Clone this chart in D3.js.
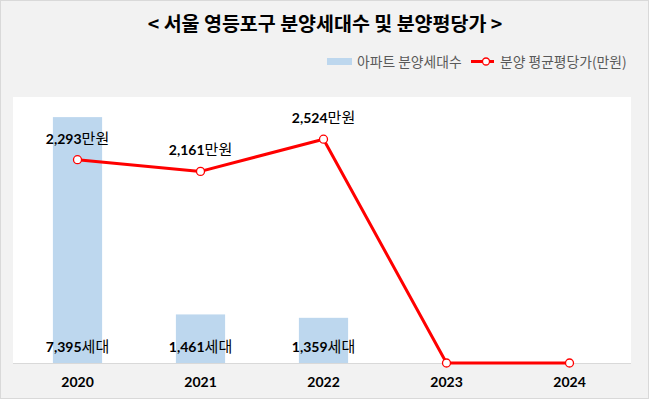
<!DOCTYPE html>
<html><head><meta charset="utf-8">
<script src="https://cdn.jsdelivr.net/npm/d3@7"></script>
<style>
html,body{margin:0;padding:0;background:#fff;}
svg{display:block;}
</style></head>
<body>
<svg id="chart" width="649" height="399"></svg>
<script>
const years = ["2020","2021","2022","2023","2024"];
const units = [7395, 1461, 1359, 0, 0];
const prices = [2293, 2161, 2524, 0, 0];
const titleText = "< 서울 영등포구 분양세대수 및 분양평당가 >";
const legendBar = "아파트 분양세대수";
const legendLine = "분양 평균평당가(만원)";

const W = 649, H = 399;
const svg = d3.select("#chart");
const numFont = "Lato, 'Noto Sans CJK KR', sans-serif";
const krFont = "'Noto Sans CJK KR', sans-serif";

svg.append("rect").attr("x",0.5).attr("y",0.5).attr("width",W-1).attr("height",H-1)
  .attr("fill","#f2f2f2").attr("stroke","#d9d9d9");

const plot = {left:16, right:631, top:97, bottom:363};
svg.append("rect").attr("x",13).attr("y",plot.top).attr("width",631-13).attr("height",plot.bottom-plot.top)
  .attr("fill","#ffffff");

const x = d3.scaleBand().domain(years).range([plot.left, plot.right]).paddingInner(0.6).paddingOuter(0.3);
const xc = d => x(d) + x.bandwidth()/2;
const yBar = d3.scaleLinear().domain([0,8000]).range([plot.bottom, plot.top]);
const yLine = d3.scaleLinear().domain([0,3000]).range([plot.bottom, plot.top]);

// title
svg.append("text").attr("x",325).attr("y",31).attr("text-anchor","middle")
  .attr("font-family",krFont).attr("font-weight","bold").attr("font-size",19.5)
  .attr("fill","#000").text(titleText);

// legend
const lg = svg.append("g");
lg.append("rect").attr("x",327).attr("y",58).attr("width",25).attr("height",7).attr("fill","#bdd7ee");
lg.append("text").attr("x",357).attr("y",66.5).attr("font-family",krFont).attr("font-size",13.8)
  .attr("fill","#595959").text(legendBar);
lg.append("line").attr("x1",471).attr("x2",494).attr("y1",61.5).attr("y2",61.5)
  .attr("stroke","#ff0000").attr("stroke-width",3);
lg.append("circle").attr("cx",486).attr("cy",61.5).attr("r",3.5).attr("fill","#fff")
  .attr("stroke","#ff0000").attr("stroke-width",1.3);
lg.append("text").attr("x",500).attr("y",66.5).attr("font-family",krFont).attr("font-size",13.8)
  .attr("fill","#595959").text(legendLine);

// bars
svg.append("g").selectAll("rect").data(years).join("rect")
  .attr("x", d => x(d))
  .attr("width", x.bandwidth())
  .attr("y", (d,i) => yBar(units[i]))
  .attr("height", (d,i) => plot.bottom - yBar(units[i]))
  .attr("fill","#bdd7ee");

// axis
const xAxis = d3.axisBottom(x).tickSize(0).tickPadding(14);
const ax = svg.append("g").attr("transform",`translate(0,${plot.bottom})`).call(xAxis);
ax.select(".domain").attr("stroke","#d9d9d9").attr("d",`M13,0.5H631`);
ax.selectAll("text").attr("font-family",numFont).attr("font-weight","bold").attr("font-size",14)
  .attr("fill","#000");

// line
const line = d3.line().x((d,i)=>xc(years[i])).y(d=>yLine(d));
svg.append("path").datum(prices).attr("d",line).attr("fill","none")
  .attr("stroke","#ff0000").attr("stroke-width",3).attr("stroke-linejoin","round");
svg.append("g").selectAll("circle").data(prices).join("circle")
  .attr("cx",(d,i)=>xc(years[i])).attr("cy",d=>yLine(d)).attr("r",4)
  .attr("fill","#fff").attr("stroke","#ff0000").attr("stroke-width",1.3);

function label(g, xx, yy, num, unit){
  const t = g.append("text").attr("x",xx).attr("y",yy).attr("text-anchor","middle")
    .attr("font-size",14).attr("fill","#000");
  t.append("tspan").attr("font-family",numFont).attr("font-weight","bold").text(num);
  t.append("tspan").attr("font-family",krFont).attr("font-weight","normal").attr("font-size",15).text(unit);
}
const lab = svg.append("g");
prices.forEach((p,i)=>{ if(p>0) label(lab, xc(years[i]), yLine(p)-16, d3.format(",")(p), "만원"); });
units.forEach((u,i)=>{ if(u>0) label(lab, xc(years[i]), 352, d3.format(",")(u), "세대"); });
</script>
</body></html>
